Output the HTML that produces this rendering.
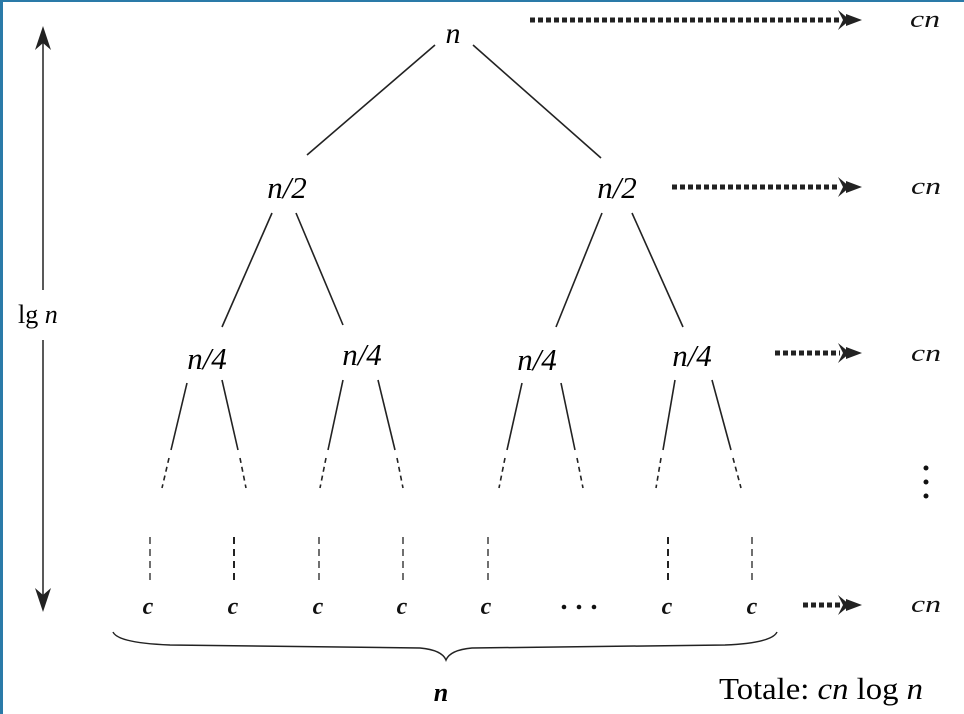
<!DOCTYPE html>
<html><head><meta charset="utf-8"><style>
html,body{margin:0;padding:0;background:#fff}
svg{display:block}
text{font-family:"Liberation Serif",serif}
</style></head><body>
<svg width="964" height="714" viewBox="0 0 964 714">
<rect x="0" y="0" width="3" height="714" fill="#2a7aa8"/>
<rect x="0" y="0" width="964" height="2" fill="#2a7aa8"/>

<g stroke="#222" stroke-width="1.5">
<line x1="43" y1="40" x2="43" y2="290"/>
<line x1="43" y1="340" x2="43" y2="598"/>
<polygon points="43,26 35,50 43,43 51,50" fill="#222" stroke="none"/>
<polygon points="43,612 35,588 43,595 51,588" fill="#222" stroke="none"/>
</g>
<text x="18" y="323" font-size="26">lg <tspan font-style="italic">n</tspan></text>

<g stroke="#222" stroke-width="1.6" fill="none">
<line x1="435" y1="45" x2="307" y2="155"/>
<line x1="473" y1="45" x2="601" y2="158"/>
<line x1="272" y1="213" x2="222" y2="327"/>
<line x1="296" y1="213" x2="343" y2="325"/>
<line x1="602" y1="213" x2="556" y2="327"/>
<line x1="632" y1="213" x2="683" y2="327"/>
</g>
<g stroke="#222" stroke-width="1.6" fill="none">
<line x1="187" y1="383" x2="171" y2="450"/><line x1="169" y1="458" x2="162" y2="488" stroke-dasharray="5,4"/>
<line x1="222" y1="380" x2="238" y2="450"/><line x1="240" y1="458" x2="246" y2="488" stroke-dasharray="5,4"/>
<line x1="343" y1="380" x2="328" y2="450"/><line x1="326" y1="458" x2="320" y2="488" stroke-dasharray="5,4"/>
<line x1="378" y1="380" x2="395" y2="450"/><line x1="397" y1="458" x2="403" y2="488" stroke-dasharray="5,4"/>
<line x1="522" y1="383" x2="507" y2="450"/><line x1="505" y1="458" x2="499" y2="488" stroke-dasharray="5,4"/>
<line x1="561" y1="383" x2="575" y2="450"/><line x1="577" y1="458" x2="583" y2="488" stroke-dasharray="5,4"/>
<line x1="675" y1="380" x2="663" y2="450"/><line x1="661" y1="458" x2="656" y2="488" stroke-dasharray="5,4"/>
<line x1="712" y1="380" x2="731" y2="450"/><line x1="733" y1="458" x2="741" y2="488" stroke-dasharray="5,4"/>
</g>
<g stroke="#222" stroke-width="1.3" stroke-dasharray="7,5">
<line x1="150" y1="537" x2="150" y2="580"/>
<line x1="234" y1="537" x2="234" y2="580" stroke-width="2"/>
<line x1="319" y1="537" x2="319" y2="580"/>
<line x1="403" y1="537" x2="403" y2="580"/>
<line x1="488" y1="537" x2="488" y2="580"/>
<line x1="668" y1="537" x2="668" y2="580" stroke-width="2"/>
<line x1="752" y1="537" x2="752" y2="580"/>
</g>

<g font-style="italic" font-size="31" text-anchor="middle" fill="#000">
<text x="453" y="43" font-size="30">n</text>
<text x="287" y="198">n/2</text>
<text x="617" y="198">n/2</text>
<text x="207" y="369">n/4</text>
<text x="362" y="365">n/4</text>
<text x="537" y="370">n/4</text>
<text x="692" y="366">n/4</text>
</g>
<g font-style="italic" font-weight="bold" font-size="24" text-anchor="middle" fill="#111">
<text x="148" y="614">c</text><text x="233" y="614">c</text><text x="318" y="614">c</text>
<text x="402" y="614">c</text><text x="486" y="614">c</text>
<text x="667" y="614">c</text><text x="752" y="614">c</text>
</g>
<g fill="#111">
<circle cx="564" cy="607" r="2.3"/><circle cx="579" cy="607" r="2.3"/><circle cx="594" cy="607" r="2.3"/>
</g>

<path d="M113,632 Q118,643 170,645 L420,648 Q442,650 446,660 Q450,650 472,648 L725,645 Q772,643 777,632" fill="none" stroke="#222" stroke-width="1.5"/>
<text x="441" y="701" font-style="italic" font-weight="bold" font-size="26" text-anchor="middle">n</text>

<g>
<g stroke="#222" stroke-width="5" stroke-dasharray="5,3">
<line x1="530" y1="20" x2="840" y2="20"/>
<line x1="672" y1="187" x2="840" y2="187"/>
<line x1="775" y1="353" x2="840" y2="353"/>
<line x1="803" y1="605" x2="840" y2="605"/>
</g>
<g fill="#222">
<path d="M838,10 L850,20 L838,30 L843,20Z M846,14 L862,20 L846,26Z"/>
<path d="M838,177 L850,187 L838,197 L843,187Z M846,181 L862,187 L846,193Z"/>
<path d="M838,343 L850,353 L838,363 L843,353Z M846,347 L862,353 L846,359Z"/>
<path d="M838,595 L850,605 L838,615 L843,605Z M846,599 L862,605 L846,611Z"/>
</g>
</g>
<g font-style="italic" font-size="24" text-anchor="middle" fill="#111">
<text x="925" y="27" textLength="30" lengthAdjust="spacingAndGlyphs">cn</text>
<text x="926" y="194" textLength="30" lengthAdjust="spacingAndGlyphs">cn</text>
<text x="926" y="361" textLength="30" lengthAdjust="spacingAndGlyphs">cn</text>
<text x="926" y="612" textLength="30" lengthAdjust="spacingAndGlyphs">cn</text>
</g>
<g fill="#111">
<circle cx="926" cy="468" r="2.5"/><circle cx="926" cy="482" r="2.5"/><circle cx="926" cy="496" r="2.5"/>
</g>
<text x="719" y="699" font-size="31" textLength="204" lengthAdjust="spacingAndGlyphs">Totale: <tspan font-style="italic">cn</tspan> log <tspan font-style="italic">n</tspan></text>
</svg>
</body></html>
